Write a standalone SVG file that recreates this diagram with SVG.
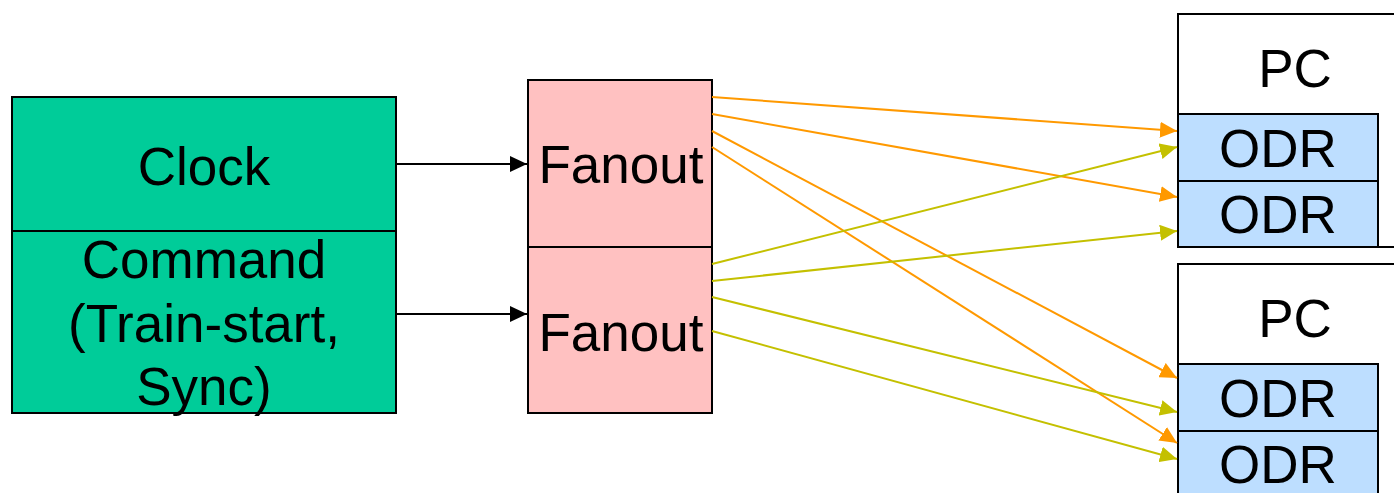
<svg xmlns="http://www.w3.org/2000/svg" width="1394" height="493" viewBox="0 0 1394 493">
  <style>
    .box { stroke: #000; stroke-width: 2; }
    .lbl { font-family: "Liberation Sans", Arial, sans-serif; font-size: 53px; fill: #000; text-anchor: middle; }
    .wire { fill: none; stroke-width: 2; }
    .blk { stroke: #000; marker-end: url(#ahBlack); }
    .org { stroke: #FF9900; marker-end: url(#ahOrange); }
    .olv { stroke: #C4C000; marker-end: url(#ahOlive); }
  </style>
  <defs>
    <marker id="ahBlack" markerUnits="userSpaceOnUse" markerWidth="18" markerHeight="16" refX="17" refY="8" orient="auto">
      <path d="M0,0 L17,8 L0,16 z" fill="#000"/>
    </marker>
    <marker id="ahOrange" markerUnits="userSpaceOnUse" markerWidth="18" markerHeight="16" refX="17" refY="8" orient="auto">
      <path d="M0,0 L17,8 L0,16 z" fill="#FF9900"/>
    </marker>
    <marker id="ahOlive" markerUnits="userSpaceOnUse" markerWidth="18" markerHeight="16" refX="17" refY="8" orient="auto">
      <path d="M0,0 L17,8 L0,16 z" fill="#C4C000"/>
    </marker>
  </defs>
  <rect width="1394" height="493" fill="#fff"/>

  <!-- source: clock and command generator -->
  <g id="source">
    <rect class="box" x="12" y="97" width="384" height="316" fill="#00CC99"/>
    <line class="box" x1="12" y1="231" x2="396" y2="231"/>
    <text class="lbl" x="204" y="185">Clock</text>
    <text class="lbl" x="204" y="278">Command</text>
    <text class="lbl" x="204" y="342">(Train-start,</text>
    <text class="lbl" x="204" y="405">Sync)</text>
  </g>

  <!-- fanout modules -->
  <g id="fanout">
    <rect class="box" x="528" y="80" width="184" height="167" fill="#FFC1C1"/>
    <rect class="box" x="528" y="247" width="184" height="166" fill="#FFC1C1"/>
    <text class="lbl" x="621" y="183">Fanout</text>
    <text class="lbl" x="621" y="351">Fanout</text>
  </g>

  <!-- first PC with two ODR boards -->
  <g id="pc1">
    <rect class="box" x="1178" y="14" width="240" height="233" fill="#fff"/>
    <text class="lbl" x="1295" y="87">PC</text>
    <rect class="box" x="1178" y="114" width="200" height="67" fill="#BDDEFF"/>
    <rect class="box" x="1178" y="181" width="200" height="66" fill="#BDDEFF"/>
    <text class="lbl" x="1278" y="167">ODR</text>
    <text class="lbl" x="1278" y="233">ODR</text>
  </g>

  <!-- second PC with two ODR boards -->
  <g id="pc2">
    <rect class="box" x="1178" y="264" width="240" height="240" fill="#fff"/>
    <text class="lbl" x="1295" y="337">PC</text>
    <rect class="box" x="1178" y="364" width="200" height="67" fill="#BDDEFF"/>
    <rect class="box" x="1178" y="431" width="200" height="67" fill="#BDDEFF"/>
    <text class="lbl" x="1278" y="417">ODR</text>
    <text class="lbl" x="1278" y="483">ODR</text>
  </g>

  <!-- signal connections -->
  <g id="connectors">
    <line class="wire blk" x1="396" y1="164" x2="527" y2="164"/>
    <line class="wire blk" x1="396" y1="314" x2="527" y2="314"/>

    <line class="wire org" x1="712" y1="97" x2="1177" y2="131"/>
    <line class="wire org" x1="712" y1="114" x2="1177" y2="197"/>
    <line class="wire org" x1="712" y1="131" x2="1177" y2="378"/>
    <line class="wire org" x1="712" y1="147" x2="1177" y2="443"/>

    <line class="wire olv" x1="712" y1="264" x2="1177" y2="147"/>
    <line class="wire olv" x1="712" y1="281" x2="1177" y2="231"/>
    <line class="wire olv" x1="712" y1="297" x2="1177" y2="412"/>
    <line class="wire olv" x1="712" y1="331" x2="1177" y2="459"/>
  </g>
</svg>
